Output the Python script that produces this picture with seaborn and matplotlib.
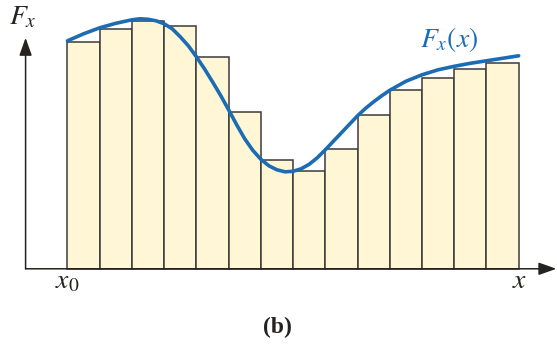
import matplotlib
matplotlib.use("Agg")
import matplotlib.pyplot as plt
import seaborn as sns
import pandas as pd

# Left-endpoint rectangles under the force curve (x in units of the step width)
bar_left = [0, 1, 2, 3, 4, 5, 6, 7, 8, 9, 10, 11, 12, 13]
bar_height = [2.27, 2.40, 2.48, 2.43, 2.12, 1.57, 1.09, 0.98, 1.20, 1.54, 1.79, 1.91, 2.00, 2.06]

# Points along the smooth force curve F_x(x)
curve_x = [0.0, 0.5, 1.0, 1.5, 2.0, 2.25, 2.5, 2.75, 3.0, 3.25, 3.5, 3.75, 4.0, 4.25,
           4.5, 4.75, 5.0, 5.25, 5.5, 5.75, 6.0, 6.25, 6.5, 6.75, 7.0, 7.25, 7.5,
           7.75, 8.0, 8.25, 8.5, 8.75, 9.0, 9.25, 9.5, 9.75, 10.0, 10.5, 11.0,
           11.5, 12.0, 12.5, 13.0, 13.5, 14.0]
curve_y = [2.28, 2.35, 2.41, 2.455, 2.49, 2.50, 2.495, 2.48, 2.45, 2.40, 2.32, 2.23, 2.12, 2.00,
           1.87, 1.735, 1.59, 1.44, 1.30, 1.185, 1.095, 1.03, 0.99, 0.97, 0.975, 1.00, 1.045,
           1.11, 1.19, 1.275, 1.36, 1.445, 1.53, 1.605, 1.67, 1.73, 1.785, 1.875, 1.94,
           1.99, 2.025, 2.055, 2.08, 2.105, 2.13]

BAR_FILL = "#fff6d5"
BAR_EDGE = "#3a3a3a"
CURVE_BLUE = "#1c6cb3"
INK = "#262220"

sns.set_theme(style="white")
plt.rcParams["mathtext.fontset"] = "stix"

fig = plt.figure(figsize=(5.57, 3.44), dpi=100)
ax = fig.add_axes([0, 0, 1, 1])

bars = pd.DataFrame({"x": [b + 0.5 for b in bar_left], "F": bar_height})
sns.barplot(data=bars, x="x", y="F", native_scale=True, width=1.0,
            color=BAR_FILL, saturation=1, edgecolor=BAR_EDGE, linewidth=1.1,
            errorbar=None, ax=ax)

curve = pd.DataFrame({"x": curve_x, "F": curve_y})
sns.lineplot(data=curve, x="x", y="F", sort=False, estimator=None,
             color=CURVE_BLUE, linewidth=2.6, ax=ax, zorder=5)
ax.lines[-1].set_solid_joinstyle("round")

ax.set_xlim(-2.094, 15.19)
ax.set_ylim(-0.752, 2.688)
ax.axis("off")

# Coordinate axes with arrowheads
axis_x0 = -1.30
arrow = dict(arrowstyle="-|>,head_length=0.9,head_width=0.32", color=INK,
             lw=1.1, shrinkA=0, shrinkB=0)
ax.annotate("", xy=(axis_x0, 2.31), xytext=(axis_x0, 0), arrowprops=arrow, zorder=6)
ax.annotate("", xy=(15.17, 0), xytext=(axis_x0, 0), arrowprops=arrow, zorder=6)

ax.text(-1.38, 2.44, r"$F_x$", fontsize=20, color=INK, ha="center", va="baseline")
ax.text(10.95, 2.22, r"$F_x(x)$", fontsize=20, color=CURVE_BLUE, ha="left", va="baseline")
ax.text(0.0, -0.195, r"$x_0$", fontsize=20, color=INK, ha="center", va="baseline")
ax.text(14.04, -0.195, r"$x$", fontsize=20, color=INK, ha="center", va="baseline")
ax.text(6.53, -0.642, "(b)", fontsize=17, color=INK, ha="center", va="baseline",
        family="Liberation Serif", fontweight="bold")

fig.savefig("out.png", dpi=100)
